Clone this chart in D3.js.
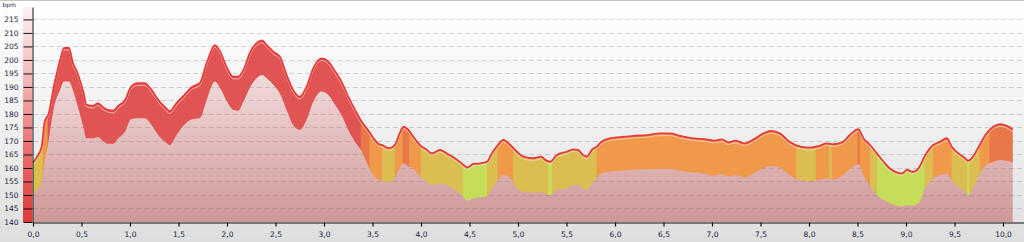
<!DOCTYPE html>
<html>
<head>
<meta charset="utf-8">
<script src="https://cdn.jsdelivr.net/npm/d3@7"></script>
<style>
  html, body { margin: 0; padding: 0; background: #fff; }
  svg { display: block; }
  .axis text { font-family: "DejaVu Sans", sans-serif; font-size: 7.5px; fill: #1c2340; }
</style>
</head>
<body>
<svg id="chart" width="1024" height="242"></svg>
<script>
// heart rate band, km vs bpm
const km = [0.00, 0.04, 0.09, 0.12, 0.16, 0.22, 0.28, 0.32, 0.37, 0.41, 0.46, 0.52, 0.55, 0.62, 0.67, 0.72,
  0.77, 0.83, 0.88, 0.95, 1.01, 1.08, 1.15, 1.22, 1.29, 1.36, 1.41, 1.48, 1.56, 1.64, 1.72, 1.79,
  1.875, 1.93, 2.00, 2.065, 2.115, 2.17, 2.24, 2.305, 2.36, 2.41, 2.48, 2.545, 2.615, 2.68, 2.75, 2.82,
  2.89, 2.975, 3.045, 3.115, 3.18, 3.25, 3.32, 3.39, 3.455, 3.51, 3.56, 3.60, 3.665, 3.73, 3.78, 3.82,
  3.87, 3.92, 3.99, 4.06, 4.11, 4.195, 4.265, 4.35, 4.42, 4.48, 4.54, 4.61, 4.68, 4.73, 4.78, 4.85,
  4.92, 4.99, 5.055, 5.16, 5.24, 5.28, 5.33, 5.40, 5.50, 5.57, 5.62, 5.67, 5.71, 5.76, 5.81, 5.86,
  5.95, 6.05, 6.19, 6.33, 6.46, 6.57, 6.67, 6.81, 6.94, 7.02, 7.10, 7.17, 7.24, 7.34, 7.43, 7.53,
  7.61, 7.70, 7.80, 7.91, 8.01, 8.10, 8.18, 8.25, 8.35, 8.42, 8.51, 8.56, 8.63, 8.70, 8.77, 8.84,
  8.96, 9.01, 9.07, 9.14, 9.19, 9.28, 9.35, 9.42, 9.47, 9.54, 9.61, 9.64, 9.69, 9.76, 9.83, 9.90,
  9.97, 10.04, 10.10];
const hrMax = [162, 164, 168, 177, 180, 191, 200, 204.5, 204.5, 199, 195, 188, 183.5, 183, 184, 182.5,
  181.5, 181.2, 183, 185.2, 190, 191.4, 191.4, 189, 185.2, 182.5, 181, 184, 187, 190, 191.4, 198.8,
  205.5, 203, 197, 193.8, 193.8, 196.3, 203, 206.2, 207.2, 205.5, 203, 201.2, 194.4, 189, 186.4, 190,
  197, 200.6, 199.4, 195.7, 192, 186.4, 181.5, 177, 174, 171, 169, 168.5, 167.3, 168.5, 172.8, 175.3,
  174.1, 171.6, 168.5, 166.7, 165.4, 166.7, 165.4, 163.6, 161.7, 160.2, 161.5, 161.7, 162.3, 165.4, 167.9, 170.4,
  168.5, 166, 164.2, 163.6, 164.2, 163, 162.3, 164.8, 166, 166.9, 166.7, 164.8, 164.2, 166.7, 167.9, 169.7,
  171, 171.4, 171.9, 172.2, 172.8, 172.8, 171.9, 171, 170.6, 170.1, 170.6, 169.5, 170.1, 169.1, 170.6, 172.8,
  173.7, 172.8, 169.7, 167.9, 167.5, 168.1, 169.1, 168.8, 169.7, 172.2, 174.4, 171, 168.5, 165.4, 162.3, 159.6,
  158, 159.3, 158.6, 160.5, 164.2, 168.5, 169.7, 171, 167.9, 165.4, 163.6, 162.7, 164.2, 168.5, 172.8, 175.3,
  176.2, 175.6, 174.3];
const hrMin = [150, 152, 155, 162, 170, 183, 189, 192, 192, 189, 183, 175, 171, 171, 171.5, 170,
  169, 169, 171, 173.5, 178, 178.4, 178.4, 176, 172.2, 169.7, 168.5, 172.2, 176, 178, 178.4, 185.2,
  192, 189.5, 184.6, 181.5, 181.2, 184.6, 190, 193.2, 194.4, 193.2, 190.7, 187.6, 181.5, 176, 174.1, 177.8,
  184.6, 188.3, 187, 183.3, 179.6, 174.1, 169.7, 166, 161, 157.4, 155.6, 155.3, 154.9, 156.2, 159.9, 161.7,
  160.5, 159.9, 156.8, 154.9, 153.7, 154.3, 153.7, 151.9, 150, 147.9, 148.8, 149.1, 149.6, 152.5, 154.9, 157.4,
  156.2, 152.5, 151.2, 150.9, 151.2, 150.5, 150, 151.9, 152.5, 153.7, 153.7, 152.5, 151.9, 154.3, 156.2, 158,
  158.6, 158.9, 159.3, 159.5, 159.7, 159.7, 159, 158.3, 157.8, 157.2, 157.7, 157, 157.3, 156.6, 158, 159.9,
  160.7, 160.2, 157.4, 155.6, 155.2, 155.6, 156.2, 155.8, 157.4, 159.5, 161.4, 157.4, 153.1, 150, 148.1, 146.9,
  145.7, 146.3, 146, 147.5, 151.9, 156.2, 157.4, 158, 155.6, 153.1, 151.2, 150, 152.5, 158, 161.1, 162.3,
  163, 162.7, 162];

// heart rate zones along the distance (start km of each stretch)
const zoneStart = [0.00, 0.10, 0.15, 3.38, 3.47, 3.60, 3.73, 3.81, 3.88, 4.00, 4.43, 4.68, 4.79, 4.95,
  5.31, 5.35, 5.81, 7.87, 8.07, 8.21, 8.235, 8.50, 8.525, 8.63, 8.70, 9.19, 9.28, 9.47, 9.63, 9.655,
  9.76, 9.86];
const zoneName = ["z2", "z3", "z5", "z4", "z3", "z2", "z3", "z4", "z3", "z2", "z1", "z2", "z3", "z2",
  "z1", "z2", "z3", "z2", "z3", "z2", "z3", "z4", "z3", "z2", "z1", "z2", "z3", "z2", "z1", "z2",
  "z3", "z4"];
const zoneColor = { z1: "#c6dd5a", z2: "#dcbd50", z3: "#f0994a", z4: "#e87848", z5: "#e05454" };

const yTicks = d3.range(140, 216, 5);
const xTicks = d3.range(0, 10.01, 0.5);

const W = 1024, H = 242;
const svg = d3.select("#chart");
const defs = svg.append("defs");

const x = d3.scaleLinear().domain([0, (W - 33) / 97]).range([33, W]);
const y = d3.scaleLinear().domain([140, 219.6]).range([222, 7]);

const data = km.map((k, i) => ({ k, hi: hrMax[i], lo: hrMin[i] }));

// gradients
function vGrad(id, stops, y1, y2) {
  const g = defs.append("linearGradient").attr("id", id)
    .attr("gradientUnits", "userSpaceOnUse")
    .attr("x1", 0).attr("x2", 0).attr("y1", y1).attr("y2", y2);
  stops.forEach(s => g.append("stop").attr("offset", s[0]).attr("stop-color", s[1]));
}
vGrad("bg", [[0, "#ffffff"], [0.5, "#f1f1f1"], [1, "#dedede"]], 0, H);
vGrad("pink", [[0, "#fbf3f3"], [0.5, "#e8c6c6"], [1, "#cf9797"]], y(215), y(140));
vGrad("strip", [[0, "#fdf1f1"], [0.35, "#f4b4b4"], [0.65, "#e87272"], [1, "#e03838"]], y(219.6), y(140));

svg.append("rect").attr("width", W).attr("height", H).attr("fill", "url(#bg)");
svg.append("line").attr("x1", 0).attr("x2", W).attr("y1", 0.5).attr("y2", 0.5)
  .attr("stroke", "#c4c4c4");

// zone colour strip left of the y axis
svg.append("rect").attr("x", 23).attr("y", y(219.6)).attr("width", 9)
  .attr("height", y(140) - y(219.6)).attr("fill", "url(#strip)");

const curve = d3.curveMonotoneX;

// pink fill under the band
svg.append("path").datum(data)
  .attr("fill", "url(#pink)")
  .attr("d", d3.area().curve(curve).x(d => x(d.k)).y0(y(140)).y1(d => y(d.hi)));

// grid
svg.append("g").selectAll("line").data(yTicks.filter(t => t > 140)).join("line")
  .attr("x1", x(0)).attr("x2", W)
  .attr("y1", d => Math.round(y(d)) + 0.5).attr("y2", d => Math.round(y(d)) + 0.5)
  .attr("stroke", "rgba(110,110,110,0.28)").attr("stroke-dasharray", "5,3");

// band between min and max, coloured by zone
const band = d3.area().curve(curve).x(d => x(d.k)).y0(d => y(d.lo)).y1(d => y(d.hi));
const lastKm = km[km.length - 1];
zoneStart.forEach((s, i) => {
  const e = i < zoneStart.length - 1 ? zoneStart[i + 1] : lastKm;
  defs.append("clipPath").attr("id", "zc" + i)
    .append("rect").attr("x", x(s)).attr("y", 0)
    .attr("width", Math.max(0.5, x(e) - x(s) + 0.3)).attr("height", H);
  svg.append("path").datum(data)
    .attr("clip-path", `url(#zc${i})`)
    .attr("fill", zoneColor[zoneName[i]])
    .attr("d", band);
});

// max line: red with a pale inner line
const topLine = d3.line().curve(curve).x(d => x(d.k)).y(d => y(d.hi));
svg.append("path").datum(data)
  .attr("fill", "none").attr("stroke", "#fbd6cc").attr("stroke-opacity", 0.75)
  .attr("stroke-width", 1).attr("transform", "translate(0,2.2)")
  .attr("d", topLine);
svg.append("path").datum(data)
  .attr("fill", "none").attr("stroke", "#e43c3c").attr("stroke-width", 1.8)
  .attr("d", topLine);

// axes
const yAxis = d3.axisLeft(y).tickValues(yTicks).tickSize(9).tickSizeOuter(0).tickPadding(5);
svg.append("g").attr("class", "axis").attr("transform", "translate(32.5,0)").call(yAxis)
  .call(g => g.selectAll("line, path").attr("stroke", "#111"));

const xAxis = d3.axisBottom(x).tickValues(xTicks).tickSize(4).tickSizeOuter(0).tickPadding(5)
  .tickFormat(d => d3.format(".1f")(d).replace(".", ","));
svg.append("g").attr("class", "axis").attr("transform", "translate(0,222.5)").call(xAxis)
  .call(g => g.selectAll("line, path").attr("stroke", "#111").attr("stroke-width", 1.2));

svg.append("text").attr("x", 2.5).attr("y", 7.2)
  .attr("font-family", "DejaVu Sans, sans-serif").attr("font-size", "6px")
  .attr("fill", "#1c2340").text("bpm");
</script>
</body>
</html>
